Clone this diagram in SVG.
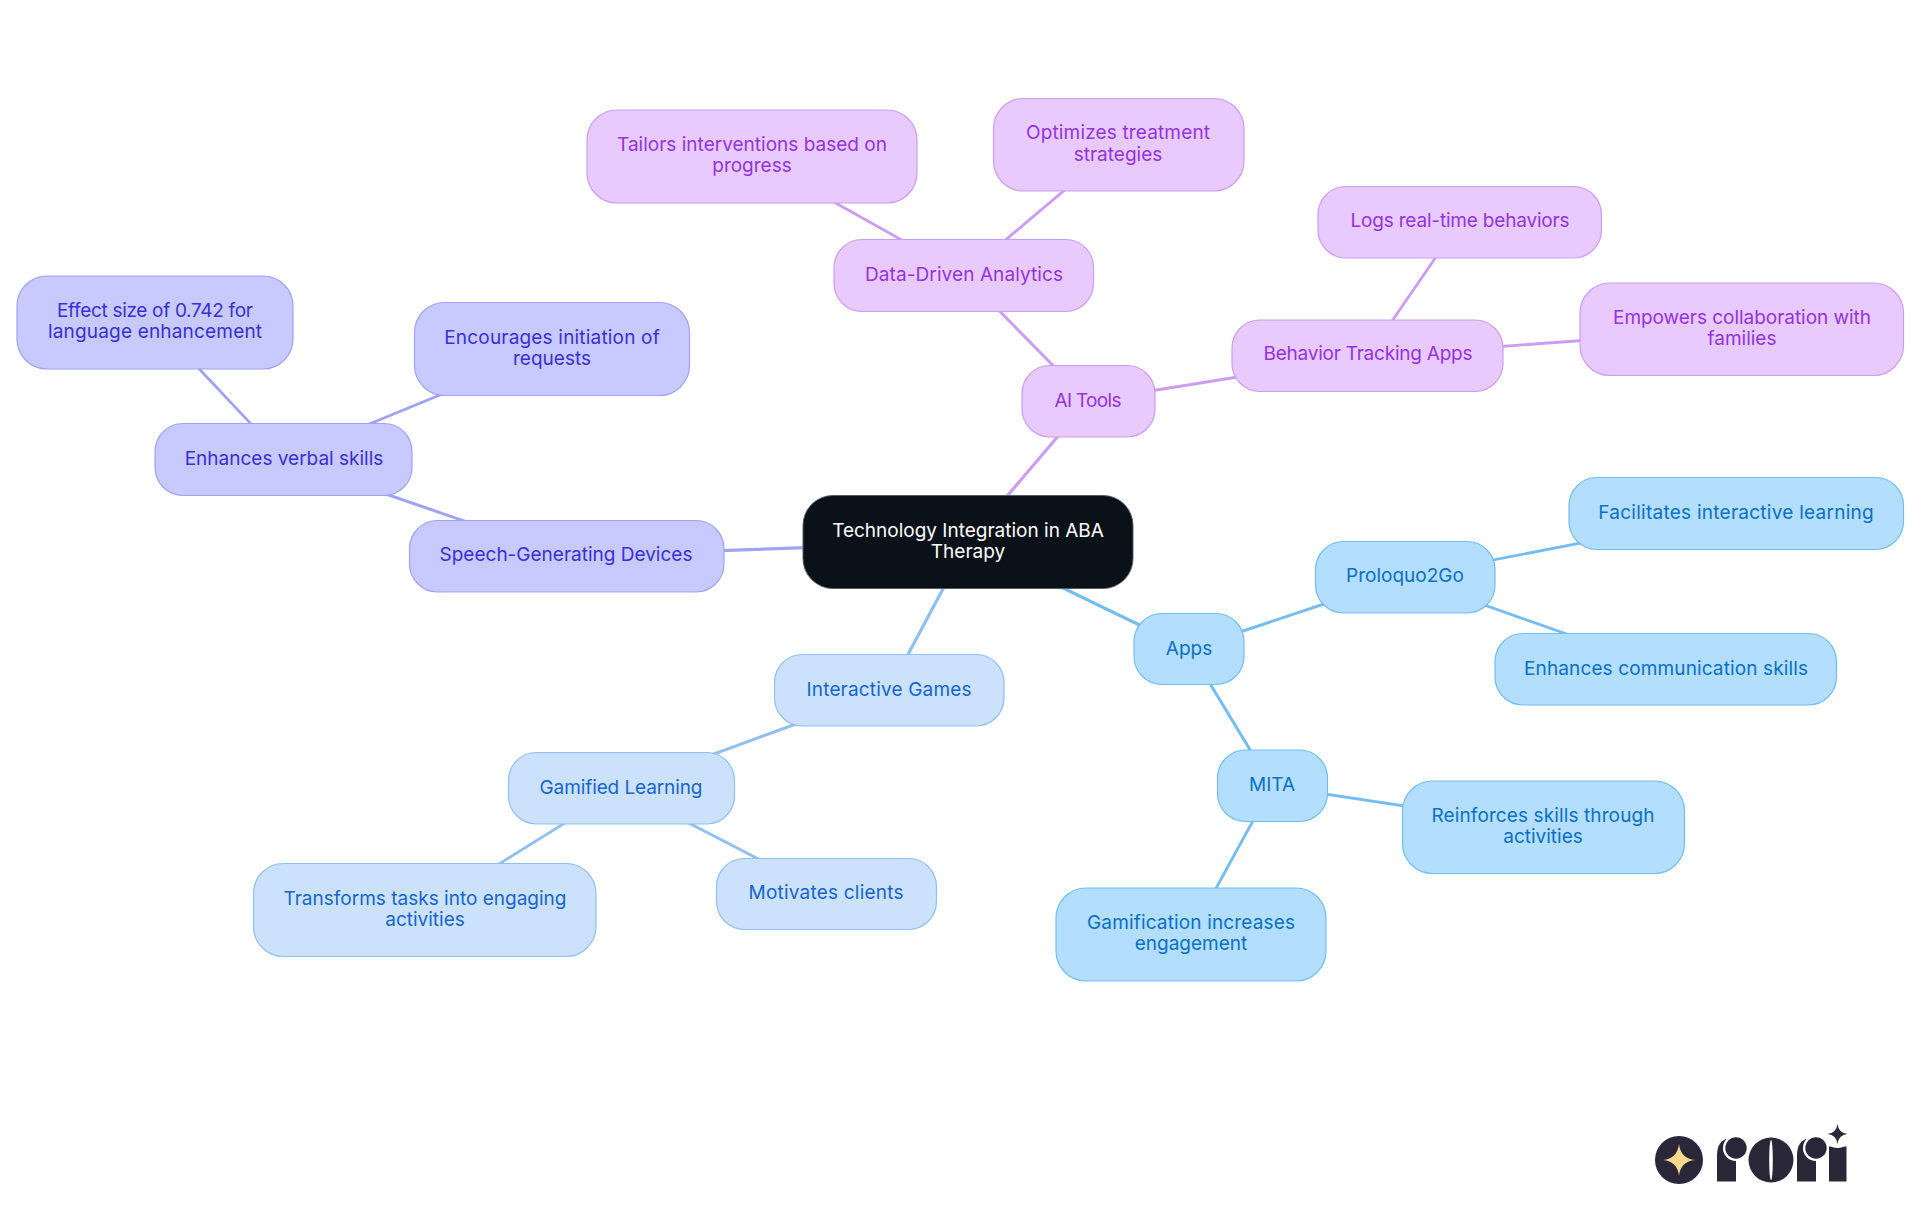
<svg xmlns="http://www.w3.org/2000/svg" width="1920" height="1215" viewBox="0 0 1920 1215">
<style>
text{font-family:Inter,"Noto Sans","Liberation Sans",sans-serif;font-size:19px;text-anchor:middle}
.c1 rect{fill:#b3defe;stroke:#74bdf2;stroke-width:1.2}.c1 text{fill:#0870c4}
.c2 rect{fill:#cce2fc;stroke:#90bff0;stroke-width:1.2}.c2 text{fill:#1565cc}
.c3 rect{fill:#c8c9fe;stroke:#9fa3f3;stroke-width:1.2}.c3 text{fill:#3730d4}
.c4 rect{fill:#e8cafe;stroke:#cb9df2;stroke-width:1.2}.c4 text{fill:#9333dc}
#connectors line{fill:none;stroke-linecap:round}
.e1{stroke:#74bdf2}.e2{stroke:#90bff0}.e3{stroke:#9fa3f3}.e4{stroke:#cb9df2}
.t1{stroke-width:3.2}.t2{stroke-width:3}.t3{stroke-width:2.800}
</style>
<rect width="1920" height="1215" fill="#fff"/>
<g id="connectors">
<line class="e4 t1" x1="968" y1="542" x2="1088" y2="401"/>
<line class="e4 t2" x1="1088" y1="401" x2="964" y2="275"/>
<line class="e4 t3" x1="964" y1="275" x2="752" y2="156"/>
<line class="e4 t3" x1="964" y1="275" x2="1118" y2="145"/>
<line class="e4 t2" x1="1088" y1="401" x2="1368" y2="356"/>
<line class="e4 t3" x1="1368" y1="356" x2="1460" y2="222"/>
<line class="e4 t3" x1="1368" y1="356" x2="1742" y2="329"/>
<line class="e3 t1" x1="968" y1="542" x2="566" y2="556"/>
<line class="e3 t2" x1="566" y1="556" x2="284" y2="459"/>
<line class="e3 t3" x1="284" y1="459" x2="155" y2="322"/>
<line class="e3 t3" x1="284" y1="459" x2="552" y2="349"/>
<line class="e2 t1" x1="968" y1="542" x2="889" y2="690"/>
<line class="e2 t2" x1="889" y1="690" x2="621" y2="788"/>
<line class="e2 t3" x1="621" y1="788" x2="425" y2="910"/>
<line class="e2 t3" x1="621" y1="788" x2="826" y2="894"/>
<line class="e1 t1" x1="968" y1="542" x2="1189" y2="649"/>
<line class="e1 t2" x1="1189" y1="649" x2="1405" y2="577"/>
<line class="e1 t3" x1="1405" y1="577" x2="1736" y2="513"/>
<line class="e1 t3" x1="1405" y1="577" x2="1666" y2="669"/>
<line class="e1 t2" x1="1189" y1="649" x2="1272" y2="786"/>
<line class="e1 t3" x1="1272" y1="786" x2="1543" y2="827"/>
<line class="e1 t3" x1="1272" y1="786" x2="1191" y2="934"/>
</g>
<g id="root"><rect x="803" y="495.5" width="330" height="93" rx="30" fill="#0b1119" stroke="#555b63" stroke-width="1"/><text x="968" y="537" fill="#fff">Technology Integration in ABA</text><text x="968" y="558" fill="#fff">Therapy</text></g>
<g id="ai-tools" class="c4"><rect x="1022" y="365.5" width="133" height="71.500" rx="28"/><text x="1088" y="407" textLength="67">AI Tools</text></g>
<g id="data-driven" class="c4"><rect x="834" y="239.5" width="259.500" height="72" rx="28"/><text x="964" y="281" textLength="198">Data-Driven Analytics</text></g>
<g id="tailors" class="c4"><rect x="587" y="110" width="330" height="93" rx="30"/><text x="752" y="151" textLength="270">Tailors interventions based on</text><text x="752" y="172">progress</text></g>
<g id="optimizes" class="c4"><rect x="993.500" y="98.500" width="250.500" height="92.500" rx="30"/><text x="1118" y="139" textLength="184">Optimizes treatment</text><text x="1118" y="161">strategies</text></g>
<g id="behavior" class="c4"><rect x="1232" y="320" width="271" height="71.500" rx="28"/><text x="1368" y="360" textLength="209">Behavior Tracking Apps</text></g>
<g id="logs" class="c4"><rect x="1318" y="186.500" width="283.500" height="71.500" rx="28"/><text x="1460" y="227" textLength="219">Logs real-time behaviors</text></g>
<g id="empowers" class="c4"><rect x="1580" y="283" width="323.500" height="92.500" rx="30"/><text x="1742" y="324" textLength="258">Empowers collaboration with</text><text x="1742" y="345">families</text></g>
<g id="speech" class="c3"><rect x="409.500" y="520.500" width="314.500" height="71.500" rx="28"/><text x="566" y="561">Speech-Generating Devices</text></g>
<g id="verbal" class="c3"><rect x="155" y="423.500" width="257" height="72" rx="28"/><text x="284" y="465">Enhances verbal skills</text></g>
<g id="effect" class="c3"><rect x="17" y="276" width="276" height="93" rx="30"/><text x="155" y="317" textLength="196">Effect size of 0.742 for</text><text x="155" y="338" textLength="214">language enhancement</text></g>
<g id="encourages" class="c3"><rect x="414.500" y="302.500" width="275" height="93" rx="30"/><text x="552" y="344" textLength="215.500">Encourages initiation of</text><text x="552" y="365">requests</text></g>
<g id="games" class="c2"><rect x="774.500" y="654.500" width="229.500" height="71.500" rx="28"/><text x="889" y="696" textLength="165">Interactive Games</text></g>
<g id="gamified" class="c2"><rect x="508.500" y="752.500" width="226" height="71.500" rx="28"/><text x="621" y="794" textLength="163">Gamified Learning</text></g>
<g id="transforms" class="c2"><rect x="253.500" y="863.500" width="342.500" height="93" rx="30"/><text x="425" y="905" textLength="283">Transforms tasks into engaging</text><text x="425" y="926">activities</text></g>
<g id="motivates" class="c2"><rect x="716.500" y="858.500" width="220" height="71" rx="28"/><text x="826" y="899" textLength="155">Motivates clients</text></g>
<g id="apps" class="c1"><rect x="1134" y="613.500" width="110" height="71" rx="28"/><text x="1189" y="655">Apps</text></g>
<g id="proloquo" class="c1"><rect x="1315.500" y="541.500" width="179.500" height="71.500" rx="28"/><text x="1405" y="582">Proloquo2Go</text></g>
<g id="facilitates" class="c1"><rect x="1569" y="477.500" width="334.500" height="72" rx="28"/><text x="1736" y="519" textLength="275.500">Facilitates interactive learning</text></g>
<g id="communication" class="c1"><rect x="1495" y="633.500" width="341.500" height="71.500" rx="28"/><text x="1666" y="675" textLength="284">Enhances communication skills</text></g>
<g id="mita" class="c1"><rect x="1217.500" y="750" width="110" height="71.500" rx="28"/><text x="1272" y="791">MITA</text></g>
<g id="reinforces" class="c1"><rect x="1402.500" y="781" width="282" height="92.500" rx="30"/><text x="1543" y="822" textLength="223">Reinforces skills through</text><text x="1543" y="843">activities</text></g>
<g id="gamification" class="c1"><rect x="1056" y="888" width="270" height="93" rx="30"/><text x="1191" y="929" textLength="208">Gamification increases</text><text x="1191" y="950">engagement</text></g>
<g id="logo">
<circle cx="1679" cy="1160" r="24" fill="#2a2838"/>
<path d="M1679 1144Q1680.500 1158.500 1695 1160Q1680.500 1161.500 1679 1176Q1677.500 1161.500 1663 1160Q1677.500 1158.500 1679 1144Z" fill="#fbd98c"/>
<path d="M1717 1181.500V1155Q1717 1140 1730 1138H1736V1181.500Z" fill="#2a2838"/>
<circle cx="1736" cy="1148" r="13" fill="#fff"/>
<circle cx="1736" cy="1148" r="10.700" fill="#2a2838"/>
<circle cx="1771" cy="1160" r="22.500" fill="#2a2838"/>
<ellipse cx="1771" cy="1160" rx="1.800" ry="20" fill="#fff"/>
<path d="M1797 1181.500V1155Q1797 1140 1810 1138H1816V1181.500Z" fill="#2a2838"/>
<circle cx="1816" cy="1148" r="13" fill="#fff"/>
<circle cx="1816" cy="1148" r="10.700" fill="#2a2838"/>
<rect x="1829" y="1146.500" width="17.500" height="35" fill="#2a2838"/>
<circle cx="1837.500" cy="1134" r="14" fill="#fff"/>
<path d="M1837.500 1124Q1838.500 1133 1847.500 1134Q1838.500 1135 1837.500 1144Q1836.500 1135 1827.500 1134Q1836.500 1133 1837.500 1124Z" fill="#2a2838"/>
</g>
</svg>
